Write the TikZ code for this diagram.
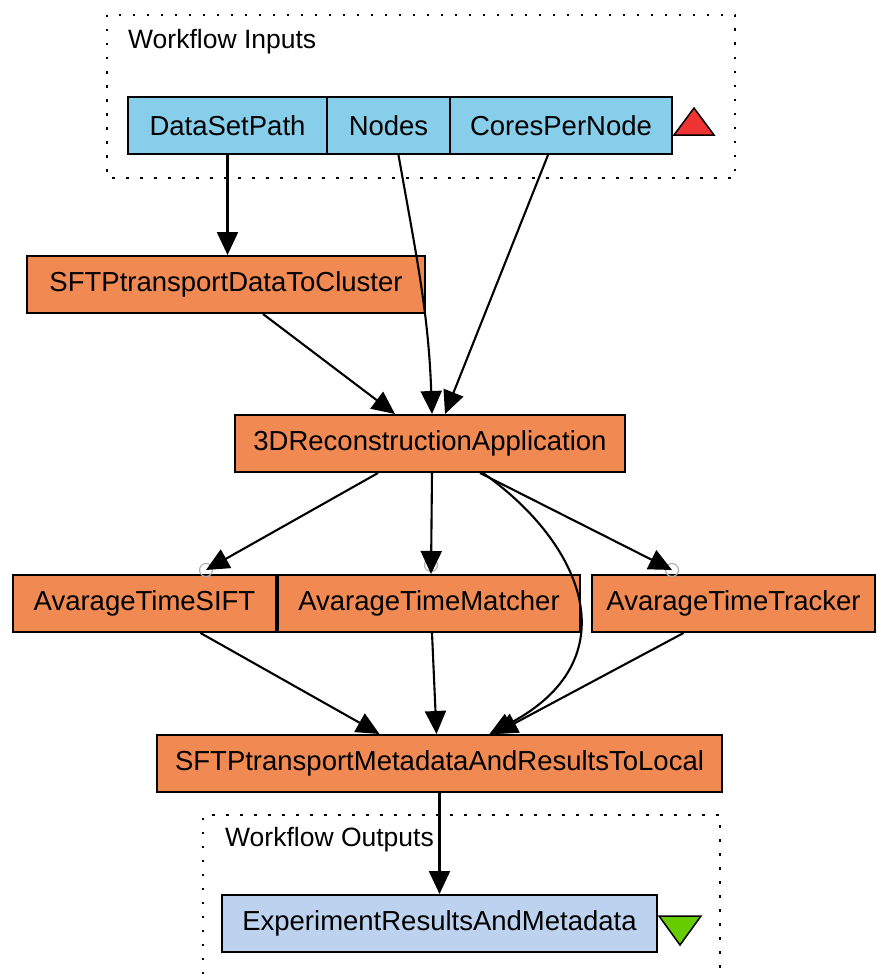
\documentclass[tikz,border=0pt]{standalone}
\usepackage{fontspec}
\setmainfont{Liberation Sans}
\usetikzlibrary{arrows.meta,calc}

\definecolor{procfill}{RGB}{240,138,82}
\definecolor{infill}{RGB}{135,206,235}
\definecolor{outfill}{RGB}{188,210,238}
\definecolor{uptri}{RGB}{240,52,52}
\definecolor{downtri}{RGB}{102,204,0}

\tikzset{
  x=1pt, y=1pt,
  wfbox/.style={draw=black, line width=2pt, rectangle, inner sep=0pt,
    minimum height=57pt, font=\fontsize{27.5}{32}\selectfont},
  procbox/.style={wfbox, fill=procfill},
  inbox/.style={wfbox, fill=infill},
  outbox/.style={wfbox, fill=outfill},
  frame/.style={line width=2.4pt, dash pattern=on 2.5pt off 11.5pt},
  arr/.style={line width=2.1pt, -{Triangle[length=23pt,width=21pt]}},
  port/.style={draw=black!30, line width=1.2pt, circle, inner sep=0pt, minimum size=13pt},
  framelabel/.style={anchor=west, inner sep=0pt, font=\fontsize{26.5}{31}\selectfont},
}

\begin{document}
\begin{tikzpicture}
\useasboundingbox (0,0) rectangle (876,-974);

% input and output groups
\draw[frame] (107,-15) rectangle (735,-178);
\node[framelabel] (inlabel) at (128,-42) {Workflow Inputs};
\draw[frame] (203,-974) -- (203,-815) -- (720,-815) -- (720,-974);
\node[framelabel] (outlabel) at (225,-840) {Workflow Outputs};

% workflow inputs
\node[inbox, minimum width=199pt] (dsp) at (227.5,-125.5) {DataSetPath};
\node[inbox, minimum width=123pt] (nodes) at (388.5,-125.5) {Nodes};
\node[inbox, minimum width=222pt] (cpn) at (561,-125.5) {CoresPerNode};
\draw[fill=uptri, line width=1.5pt] (674,-135) -- (694,-108) -- (714,-135) -- cycle;

% processors
\node[procbox, minimum width=398pt] (tocluster) at (226,-284.5) {SFTPtransportDataToCluster};
\node[procbox, minimum width=390pt] (recon) at (430,-443.5) {3DReconstructionApplication};
\node[procbox, minimum width=263pt] (sift) at (144.5,-603.5) {AvarageTimeSIFT};
\node[procbox, minimum width=302pt] (matcher) at (429,-603.5) {AvarageTimeMatcher};
\node[procbox, minimum width=283pt] (tracker) at (733.5,-603.5) {AvarageTimeTracker};
\node[procbox, minimum width=565pt] (tolocal) at (439.5,-763.5) {SFTPtransportMetadataAndResultsToLocal};

% workflow output
\node[outbox, minimum width=435pt] (results) at (439.5,-923.5) {ExperimentResultsAndMetadata};
\draw[fill=downtri, line width=1.5pt] (659,-916) -- (701,-916) -- (680,-945) -- cycle;

% port markers on the averaging processors
\node[port] (psift) at (206,-570) {};
\node[port] (pmatcher) at (431,-565) {};
\node[port] (ptracker) at (672,-570) {};

% data links
\draw[arr] (dsp.south) -- (tocluster.north -| dsp.south);
\draw[arr] ([xshift=10pt]nodes.south) to[out=-80,in=92] ([xshift=2pt]recon.north);
\draw[arr] ([xshift=-13pt]cpn.south) -- ([xshift=15pt]recon.north);
\draw[arr] ([xshift=37pt]tocluster.south) -- ([xshift=-35pt]recon.north);
\draw[arr] ([xshift=-52pt]recon.south) -- (psift.center);
\draw[arr] ([xshift=2pt]recon.south) -- (matcher.north -| pmatcher.center);
\draw[arr] ([xshift=50pt]recon.south) -- (ptracker.center);
\draw[arr] ([xshift=53pt]recon.south) .. controls (585,-545) and (630,-660) .. ([xshift=50pt]tolocal.north);
\draw[arr] ([xshift=56pt]sift.south) -- ([xshift=-60pt]tolocal.north);
\draw[arr] ([xshift=3pt]matcher.south) -- ([xshift=-3pt]tolocal.north);
\draw[arr] ([xshift=-50pt]tracker.south) -- ([xshift=55pt]tolocal.north);
\draw[arr] (tolocal.south) -- (results.north);
\end{tikzpicture}
\end{document}
